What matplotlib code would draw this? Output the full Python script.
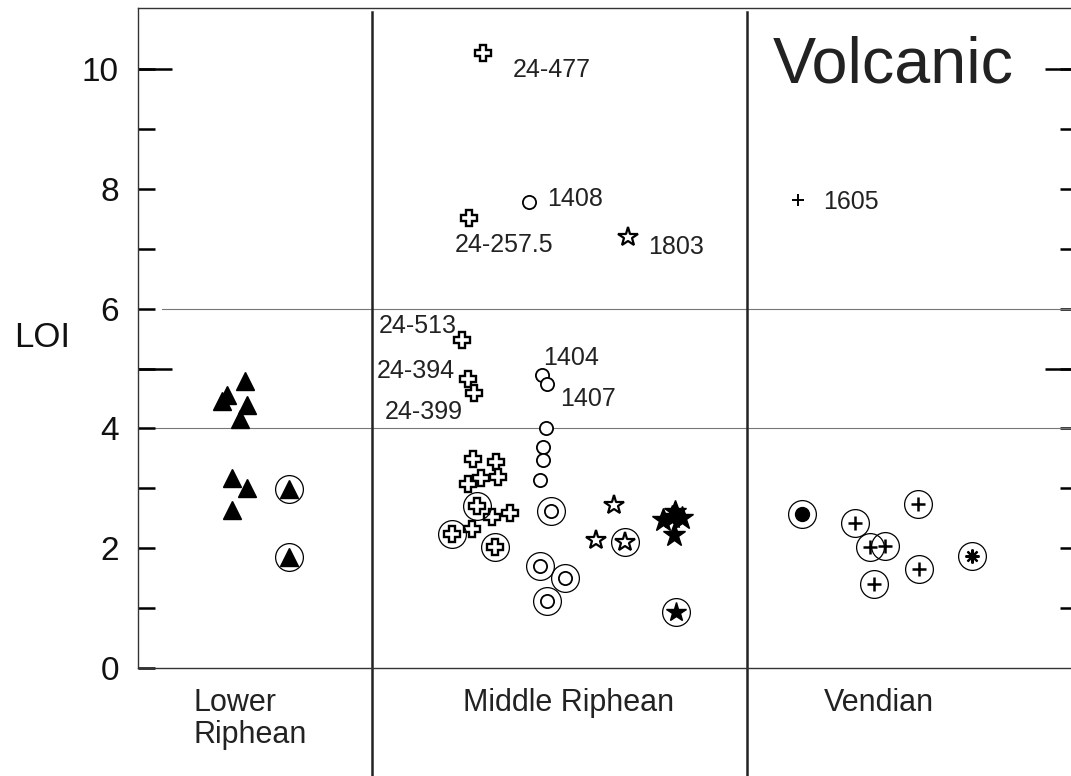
import matplotlib
matplotlib.use("Agg")
import matplotlib.pyplot as plt

plt.rcParams['font.family'] = 'Liberation Sans'

# Lower Riphean
lr_tri_x = [11.5, 9.5, 9.0, 11.7, 10.9, 10.1, 11.7, 10.1]
lr_tri_y = [4.80, 4.56, 4.46, 4.39, 4.16, 3.17, 3.00, 2.64]
lr_tri_circ_x = [16.2, 16.2]
lr_tri_circ_y = [2.99, 1.85]

# Middle Riphean
mr_cross_x = [37.0, 35.5, 34.7, 35.4, 36.0, 35.9, 38.4, 36.8, 38.6, 35.4, 37.9, 39.9, 35.8]
mr_cross_y = [10.27, 7.51, 5.48, 4.82, 4.60, 3.49, 3.44, 3.17, 3.19, 3.07, 2.52, 2.59, 2.32]
mr_cross_circ_x = [36.3, 33.65, 38.3]
mr_cross_circ_y = [2.70, 2.24, 2.02]
mr_circ_x = [41.9, 43.3, 43.84, 43.73, 43.4, 43.4, 43.09]
mr_circ_y = [7.78, 4.89, 4.74, 4.00, 3.69, 3.47, 3.14]
mr_circ_circ_x = [44.27, 43.09, 45.77, 43.84]
mr_circ_circ_y = [2.62, 1.70, 1.50, 1.12]
mr_star_x = [52.5, 51.0, 49.1]
mr_star_y = [7.20, 2.72, 2.14]
mr_star_circ_x = [52.2]
mr_star_circ_y = [2.10]
mr_fstar_x = [56.3, 57.2, 57.6, 58.3, 57.45]
mr_fstar_y = [2.47, 2.52, 2.60, 2.50, 2.22]
mr_fstar_circ_x = [57.66]
mr_fstar_circ_y = [0.93]

# Vendian
v_dot_circ_x = [71.2]
v_dot_circ_y = [2.57]
v_plus_circ_x = [76.85, 78.46, 80.06, 83.6, 83.71, 78.89]
v_plus_circ_y = [2.42, 2.02, 2.04, 2.74, 1.65, 1.40]
v_ast_circ_x = [89.4]
v_ast_circ_y = [1.87]
v_plus_x = [70.74]
v_plus_y = [7.81]

# labelled samples
sample_names = ['24-477', '24-257.5', '1408', '1803', '24-513', '24-394', '24-399', '1404', '1407', '1605']
sample_x = [37.0, 35.5, 41.9, 52.5, 34.7, 35.4, 36.0, 43.3, 43.84, 70.74]
sample_y = [10.27, 7.51, 7.78, 7.20, 5.48, 4.82, 4.60, 4.89, 4.74, 7.81]
# label offsets in pixels (dx, dy to baseline) and alignment
label_offsets = [(30, -24), (-14, -34), (18, -4), (20, -17), (-5, 7),
                 (-13, 1), (-11, -26), (1, 10), (13, -22), (25, -9)]
label_ha = ['left', 'left', 'left', 'left', 'right', 'right', 'right', 'left', 'left', 'left']

periods = ['Lower\nRiphean', 'Middle Riphean', 'Vendian']
period_x = [5.9, 46.1, 79.4]
period_ha = ['left', 'center', 'center']
boundaries = [25.08, 65.27]

fig = plt.figure(figsize=(10.71, 7.76), dpi=100)
ax = fig.add_axes([138 / 1071, 108 / 776, 933 / 1071, 660 / 776])
ax.set_xlim(0, 100)
ax.set_ylim(0, 11.02)

ax.spines['right'].set_visible(False)
for s in ['left', 'bottom', 'top']:
    ax.spines[s].set_linewidth(1.0)
    ax.spines[s].set_color('#333333')

ax.set_xticks([])
ax.set_yticks([0, 2, 4, 6, 8, 10])
ax.set_yticks([1, 3, 5, 7, 9], minor=True)
ax.tick_params(axis='y', which='both', direction='in', length=12.2, width=1.8,
               labelsize=24, pad=13.7, right=False, labelcolor='#111111')

# long ticks at 5 and 10
sec_l = ax.secondary_yaxis('left')
sec_l.set_yticks([5, 10])
sec_l.tick_params(direction='in', length=24.5, width=1.8, labelleft=False, labelright=False)
sec_r = ax.secondary_yaxis('right')
sec_r.set_yticks(range(1, 11))
sec_r.tick_params(direction='in', length=8, width=1.8, labelleft=False, labelright=False)
sec_r2 = ax.secondary_yaxis('right')
sec_r2.set_yticks([5, 10])
sec_r2.tick_params(direction='in', length=18.7, width=1.8, labelleft=False, labelright=False)
for sa in [sec_l, sec_r, sec_r2]:
    for sp in sa.spines.values():
        sp.set_visible(False)

ax.set_ylabel('LOI', rotation=0, fontsize=25, ha='center', va='center', color='#111111')
ax.yaxis.set_label_coords(-0.103, 0.5015)

ax.axhline(6, xmin=0.026, color='#777777', lw=0.8, zorder=1)
ax.axhline(4, color='#777777', lw=0.8, zorder=1)

for b in boundaries:
    ax.plot([b, b], [-0.164, 0.994], transform=ax.get_xaxis_transform(),
            clip_on=False, color='#222222', lw=1.8)

ring = dict(linestyle='none', marker='o', ms=20, mfc='none', mec='black', mew=0.9)

ax.plot(lr_tri_x, lr_tri_y, '^', ls='none', ms=13, color='black')
ax.plot(lr_tri_circ_x, lr_tri_circ_y, '^', ls='none', ms=13, color='black')
ax.plot(lr_tri_circ_x, lr_tri_circ_y, **ring)

ax.plot(mr_cross_x, mr_cross_y, 'P', ls='none', ms=12, mfc='white', mec='black', mew=1.7)
ax.plot(mr_cross_circ_x, mr_cross_circ_y, 'P', ls='none', ms=12, mfc='white', mec='black', mew=1.7)
ax.plot(mr_cross_circ_x, mr_cross_circ_y, **ring)

ax.plot(mr_circ_x, mr_circ_y, 'o', ls='none', ms=9.5, mfc='white', mec='black', mew=1.3)
ax.plot(mr_circ_circ_x, mr_circ_circ_y, 'o', ls='none', ms=9.5, mfc='white', mec='black', mew=1.3)
ax.plot(mr_circ_circ_x, mr_circ_circ_y, **ring)

ax.plot(mr_star_x, mr_star_y, '*', ls='none', ms=15, mfc='white', mec='black', mew=1.6)
ax.plot(mr_star_circ_x, mr_star_circ_y, '*', ls='none', ms=15, mfc='white', mec='black', mew=1.6)
ax.plot(mr_star_circ_x, mr_star_circ_y, **ring)

ax.plot(mr_fstar_x, mr_fstar_y, '*', ls='none', ms=17, color='black')
ax.plot(mr_fstar_circ_x, mr_fstar_circ_y, '*', ls='none', ms=15, color='black')
ax.plot(mr_fstar_circ_x, mr_fstar_circ_y, **ring)

ax.plot(v_dot_circ_x, v_dot_circ_y, 'o', ls='none', ms=10, color='black')
ax.plot(v_dot_circ_x, v_dot_circ_y, **ring)
ax.plot(v_plus_circ_x, v_plus_circ_y, '+', ls='none', ms=10, mec='black', mew=1.8)
ax.plot(v_plus_circ_x, v_plus_circ_y, **ring)
ax.plot(v_ast_circ_x, v_ast_circ_y, marker=(8, 2, 0), ls='none', ms=10, mec='black', mew=1.6)
ax.plot(v_ast_circ_x, v_ast_circ_y, **ring)
ax.plot(v_plus_x, v_plus_y, '+', ls='none', ms=9, mec='black', mew=1.4)

for name, x, y, (dx, dy), ha in zip(sample_names, sample_x, sample_y, label_offsets, label_ha):
    ax.annotate(name, (x, y), xytext=(dx * 0.72, dy * 0.72), textcoords='offset points',
                ha=ha, va='baseline', fontsize=18, color='#222222')

ax.text(68.06, 9.78, 'Volcanic', fontsize=46.5, va='baseline', ha='left', color='#222222')

for name, x, ha in zip(periods, period_x, period_ha):
    ax.text(x, -0.03, name, transform=ax.get_xaxis_transform(), ha=ha, va='top',
            fontsize=22, linespacing=1.1, color='#222222')

fig.savefig('out.png', dpi=100)
